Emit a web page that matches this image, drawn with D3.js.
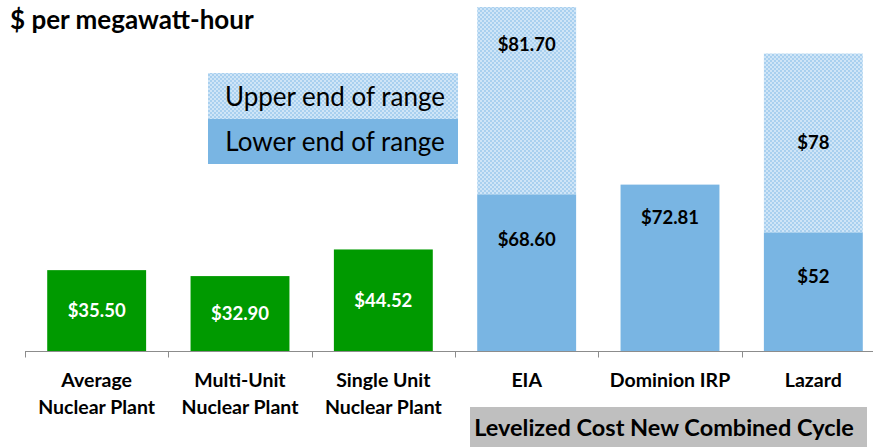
<!DOCTYPE html>
<html>
<head>
<meta charset="utf-8">
<script src="https://cdn.jsdelivr.net/npm/d3@7"></script>
<style>
  body { margin: 0; background: #fff; }
  svg { display: block; font-family: Lato, "Open Sans", sans-serif; }
</style>
</head>
<body>
<svg id="chart" width="873" height="447"></svg>
<script>
// Data
const categories = ["Average|Nuclear Plant", "Multi-Unit|Nuclear Plant", "Single Unit|Nuclear Plant",
                    "EIA", "Dominion IRP", "Lazard"];
const lowerValues = [35.50, 32.90, 44.52, 68.60, 72.81, 52];
const upperValues = [0, 0, 0, 81.70, 0, 78];
const lowerLabels = ["$35.50", "$32.90", "$44.52", "$68.60", "$72.81", "$52"];
const upperLabels = ["", "", "", "$81.70", "", "$78"];
const isNuclear = [true, true, true, false, false, false];

// where the value label sits inside its segment (0 = bottom, 1 = top)
const lowerLabelPos = [0.5, 0.5, 0.5, 0.71, 0.80, 0.63];
const upperLabelPos = [0, 0, 0, 0.80, 0, 0.5];

const svg = d3.select("#chart");
const baseY = 351.5;

// Scales
let x = d3.scaleBand()
    .domain(categories)
    .range([25, 885])
    .paddingInner(0.31)
    .paddingOuter(0.155);

let y = d3.scaleLinear()
    .domain([0, 150.3])
    .range([baseY, 7]);

// Pattern for the upper end of range
const defs = svg.append("defs");
const pat = defs.append("pattern")
    .attr("id", "dots")
    .attr("width", 4).attr("height", 4)
    .attr("patternUnits", "userSpaceOnUse");
pat.append("rect").attr("width", 4).attr("height", 4).attr("fill", "#a9d0ef");
pat.append("rect").attr("x", 0).attr("y", 0).attr("width", 2).attr("height", 2).attr("fill", "#cfe5f7");
pat.append("rect").attr("x", 2).attr("y", 2).attr("width", 2).attr("height", 2).attr("fill", "#cfe5f7");

const green = "#009a00", blue = "#79b5e3";

const rows = categories.map((c, i) => ({
    cat: c, lo: lowerValues[i], hi: upperValues[i],
    loLab: lowerLabels[i], hiLab: upperLabels[i],
    nuc: isNuclear[i], loPos: lowerLabelPos[i], hiPos: upperLabelPos[i]
}));

// Lower segments
svg.selectAll(".lo")
    .data(rows)
    .enter()
    .append("rect")
    .attr("x", d => x(d.cat))
    .attr("y", d => y(d.lo))
    .attr("width", x.bandwidth())
    .attr("height", d => y(0) - y(d.lo))
    .style("fill", d => d.nuc ? green : blue);

// Upper segments, stacked on top
svg.selectAll(".hi")
    .data(rows.filter(d => d.hi > 0))
    .enter()
    .append("rect")
    .attr("x", d => x(d.cat))
    .attr("y", d => y(d.lo + d.hi))
    .attr("width", x.bandwidth())
    .attr("height", d => y(d.lo) - y(d.lo + d.hi))
    .style("fill", "url(#dots)");

// Value labels
svg.selectAll(".loLab")
    .data(rows)
    .enter()
    .append("text")
    .attr("x", d => x(d.cat) + x.bandwidth() / 2)
    .attr("y", d => y(d.lo * d.loPos))
    .attr("dy", "0.35em")
    .attr("text-anchor", "middle")
    .style("font-size", "18.5px")
    .style("font-weight", "bold")
    .style("fill", d => d.nuc ? "#fff" : "#000")
    .text(d => d.loLab);

svg.selectAll(".hiLab")
    .data(rows.filter(d => d.hi > 0))
    .enter()
    .append("text")
    .attr("x", d => x(d.cat) + x.bandwidth() / 2)
    .attr("y", d => y(d.lo + d.hi * d.hiPos))
    .attr("dy", "0.35em")
    .attr("text-anchor", "middle")
    .style("font-size", "18.5px")
    .style("font-weight", "bold")
    .text(d => d.hiLab);

// Axis line with ticks between categories
const axisG = svg.append("g").attr("transform", "translate(0," + baseY + ")");
axisG.append("line")
    .attr("x1", 25).attr("x2", 885)
    .attr("stroke", "#8c8c8c").attr("stroke-width", 1);
const bounds = categories.map(c => x(c) - x.step() * x.paddingInner() / 2);
bounds.push(885);
axisG.selectAll(".tk")
    .data(bounds)
    .enter()
    .append("line")
    .attr("x1", d => Math.round(d) + 0.5).attr("x2", d => Math.round(d) + 0.5)
    .attr("y1", 0).attr("y2", 6)
    .attr("stroke", "#8c8c8c");

// Category labels
svg.selectAll(".cat")
    .data(categories)
    .enter()
    .append("text")
    .attr("x", d => x(d) + x.bandwidth() / 2)
    .attr("y", 387)
    .attr("text-anchor", "middle")
    .style("font-size", "19.5px")
    .style("font-weight", "bold")
    .each(function(d) {
        d.split("|").forEach((line, k) => {
            d3.select(this).append("tspan")
                .attr("x", x(d) + x.bandwidth() / 2)
                .attr("dy", k === 0 ? 0 : 27)
                .text(line);
        });
    });

// Title
svg.append("text")
    .attr("x", 10)
    .attr("y", 29)
    .style("font-size", "26px")
    .style("font-weight", "bold")
    .text("$ per megawatt-hour");

// Legend
const legend = svg.append("g");
legend.append("rect").attr("x", 208).attr("y", 73).attr("width", 250).attr("height", 46)
    .style("fill", "url(#dots)");
legend.append("rect").attr("x", 208).attr("y", 119).attr("width", 250).attr("height", 45)
    .style("fill", blue);
legend.append("text").attr("x", 335).attr("y", 97).attr("dy", "0.35em")
    .attr("text-anchor", "middle").style("font-size", "26px")
    .text("Upper end of range");
legend.append("text").attr("x", 335).attr("y", 142).attr("dy", "0.35em")
    .attr("text-anchor", "middle").style("font-size", "26px")
    .text("Lower end of range");

// Group box
svg.append("rect")
    .attr("x", 470).attr("y", 407).attr("width", 397).attr("height", 40)
    .style("fill", "#bfbfbf");
svg.append("text")
    .attr("x", 664).attr("y", 428).attr("dy", "0.35em")
    .attr("text-anchor", "middle")
    .style("font-size", "23.5px").style("font-weight", "bold")
    .text("Levelized Cost New Combined Cycle");
</script>
</body>
</html>
